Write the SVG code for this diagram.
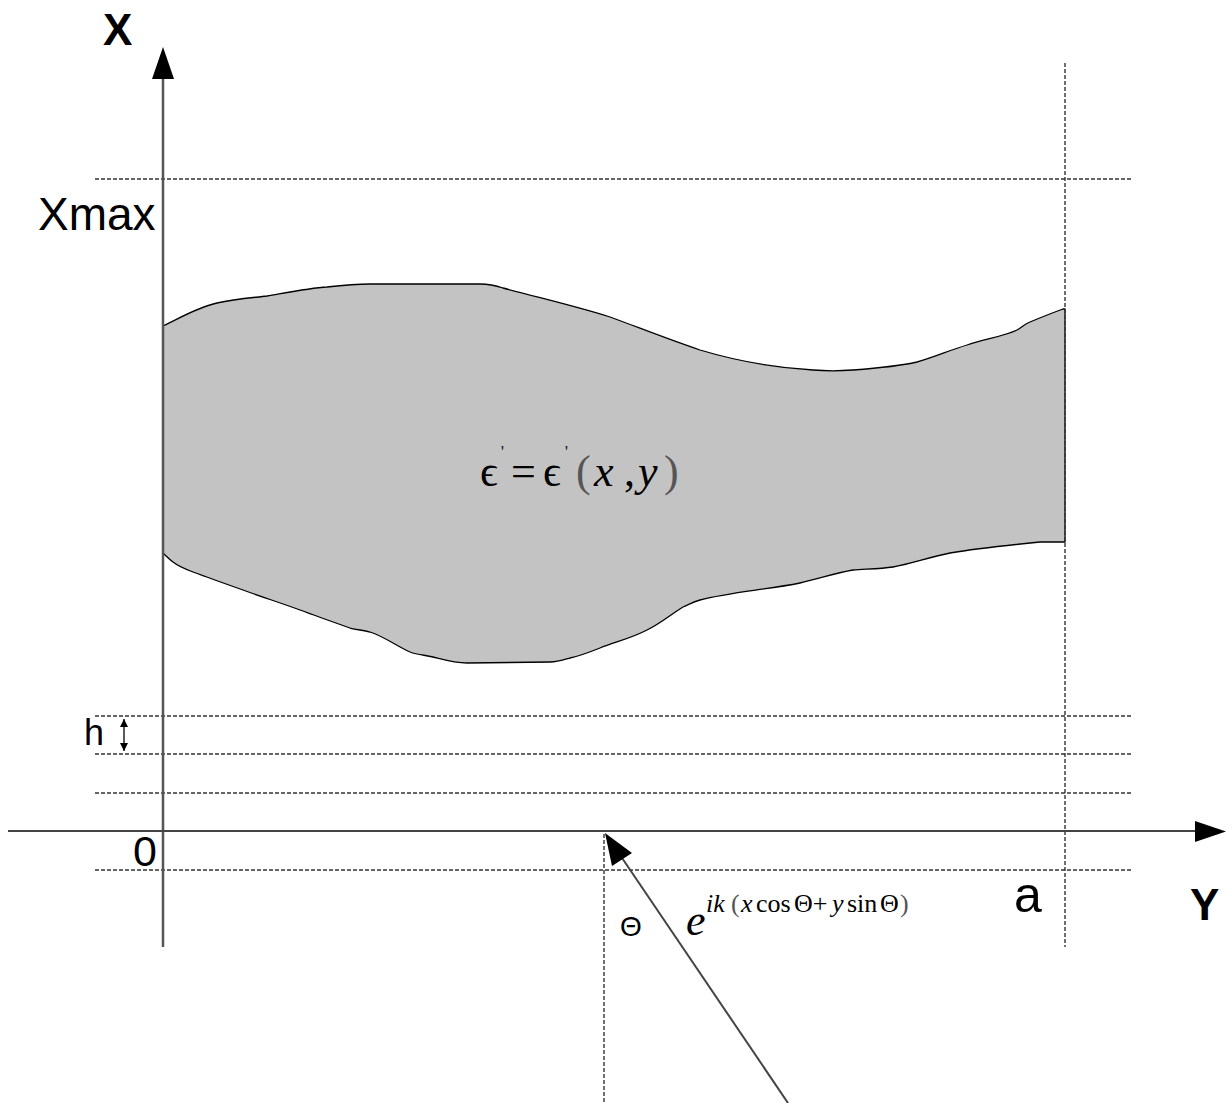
<svg xmlns="http://www.w3.org/2000/svg" width="1226" height="1103" viewBox="0 0 1226 1103">
<style>
.dash{stroke:#333;stroke-width:1.4;stroke-dasharray:4 2;fill:none}
.axis{stroke:#555;stroke-width:2.5;fill:none}
.lbl{font-family:"Liberation Sans","DejaVu Sans",sans-serif;fill:#000}
.bold{font-weight:bold}
.math{font-family:"Liberation Serif","DejaVu Serif",serif;fill:#000}
.it{font-style:italic}
.sup{font-size:26px}
</style>
<defs>
<marker id="sm" markerWidth="8" markerHeight="8" refX="8" refY="4" orient="auto-start-reverse" markerUnits="userSpaceOnUse" viewBox="0 0 8 8">
<path d="M0,0 L8,4 L0,8 z" fill="#000"/>
</marker>
</defs>
<rect width="1226" height="1103" fill="#fff"/>
<g id="region">
<path d="M163,326 C180,318 198,307 217,303 C235,299 250,298 267,296 C290,292 310,288 327,287 C345,285 358,284 370,284 L480,284 C490,284 497,286 503,288 C540,298 575,306 610,317 C640,328 670,340 700,350 C740,362 780,368 813,370 C825,371 840,371 853,370 C880,368 900,366 917,362 C935,357 950,350 967,345 C985,339 1005,336 1017,330 C1022,327 1025,324 1030,322 C1042,317 1052,313 1063,309 L1065,309 L1065,542 L1040,542 C1010,545 980,548 950,553 C930,557 910,564 893,567 C880,569 865,569 853,570 C835,573 818,579 800,583 C765,590 730,592 700,600 C693,602 688,605 683,607 C670,615 660,624 647,630 C632,638 615,642 600,648 C590,652 580,656 570,658 C563,660 557,662 550,662 L467,663 C455,663 445,660 433,657 C425,655 418,655 410,652 C395,645 385,637 370,632 C363,630 357,630 350,628 C333,622 316,616 300,610 C281,603 262,597 243,590 C226,584 209,578 193,572 C185,569 178,566 173,562 C169,559 166,556 163,553 Z" fill="#c3c3c3" stroke="#000" stroke-width="1.3" stroke-linejoin="round"/>
<text class="math" font-size="44" y="486"><tspan x="480">ϵ</tspan><tspan x="501" y="457" font-size="16">'</tspan><tspan x="511" y="486">=</tspan><tspan x="543">ϵ</tspan><tspan x="565" y="457" font-size="16">'</tspan><tspan x="576" y="486" fill="#555">(</tspan><tspan class="it" x="594">x</tspan><tspan x="624">,</tspan><tspan class="it" x="638">y</tspan><tspan x="664" fill="#555">)</tspan></text>
</g>
<g id="gridlines">
<line class="dash" x1="95" y1="179" x2="1133" y2="179"/>
<line class="dash" x1="95" y1="716" x2="1133" y2="716"/>
<line class="dash" x1="95" y1="754" x2="1133" y2="754"/>
<line class="dash" x1="95" y1="793" x2="1133" y2="793"/>
<line class="dash" x1="95" y1="870" x2="1133" y2="870"/>
<line class="dash" x1="1065" y1="63" x2="1065" y2="947"/>
<line class="dash" x1="604" y1="834" x2="604" y2="1103"/>
</g>
<g id="connectors">
<line class="axis" x1="163" y1="947" x2="163" y2="78"/>
<path d="M163,47 L174,79 L152,79 z" fill="#000"/>
<line x1="8" y1="831" x2="1196" y2="831" stroke="#444" stroke-width="2"/>
<path d="M1226,831.5 L1195,821 L1195,842 z" fill="#000"/>
<line x1="788" y1="1103" x2="618" y2="852" stroke="#444" stroke-width="2"/>
<path d="M605,833 L632,853 L612,866 z" fill="#000"/>
<line x1="124" y1="719" x2="124" y2="751" stroke="#000" stroke-width="1.3" marker-start="url(#sm)" marker-end="url(#sm)"/>
</g>
<g id="labels">
<text class="lbl bold" x="103" y="45" font-size="44">X</text>
<text class="lbl bold" x="1190" y="920" font-size="44">Y</text>
<text class="lbl" x="38" y="230" font-size="46">Xmax</text>
<text class="lbl" x="84" y="745" font-size="36">h</text>
<text class="lbl" x="133" y="866" font-size="43">0</text>
<text class="lbl" x="1014" y="912" font-size="50">a</text>
<text class="lbl" x="620" y="936" font-size="28">Θ</text>
<text class="math" y="935"><tspan class="it" x="686" font-size="44">e</tspan><tspan class="it sup" x="706" y="912">ik</tspan><tspan class="sup" x="731" fill="#555">(</tspan><tspan class="it sup" x="741">x</tspan><tspan class="sup" x="756">cos</tspan><tspan class="sup" x="794">Θ+</tspan><tspan class="it sup" x="832">y</tspan><tspan class="sup" x="847">sin</tspan><tspan class="sup" x="880">Θ</tspan><tspan class="sup" x="900" fill="#555">)</tspan></text>
</g>
</svg>
